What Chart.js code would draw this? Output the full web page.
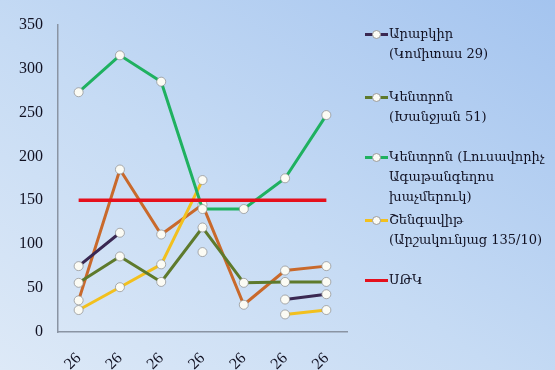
<!DOCTYPE html>
<html lang="hy">
<head>
  <meta charset="UTF-8" />
  <title>Chart</title>
  <script src="https://cdn.jsdelivr.net/npm/chart.js"></script>
  <style>
    html, body {
      margin: 0;
      padding: 0;
    }
    body {
      width: 555px;
      height: 370px;
      overflow: hidden;
      background: linear-gradient(to top right, #dde9f7 0%, #c6dbf4 45%, #a4c4ef 100%);
      position: relative;
    }
    #wrap {
      position: absolute;
      left: 0;
      top: 0;
      width: 555px;
      height: 370px;
    }
    #legend {
      position: absolute;
      left: 365px;
      top: 0;
      font-family: 'DejaVu Serif', serif;
      font-size: 13px;
      color: #111122;
    }
    .item {
      position: absolute;
      left: 0;
      white-space: nowrap;
      line-height: 20px;
    }
    .mark {
      position: absolute;
      left: 0;
      top: 9px;
      width: 23px;
      height: 3px;
    }
    .mark span {
      position: absolute;
      left: 7px;
      top: -3px;
      width: 7px;
      height: 7px;
      border-radius: 50%;
      background: #fbfbf5;
      border: 1px solid #9a9a9a;
    }
    .txt {
      margin-left: 24px;
    }
  </style>
</head>
<body>
  <div id="wrap"><canvas id="chart" width="555" height="370"></canvas></div>
  <div id="legend"></div>

  <script>
    const categories = ["26", "26", "26", "26", "26", "26", "26"];
    const yTicks = [0, 50, 100, 150, 200, 250, 300, 350];

    const arabkir = [75, 113, null, 91, null, 37, 43];
    const kentronKhanjyan = [56, 86, 57, 119, 56, 57, 57];
    const kentronLusavorich = [273, 315, 285, 140, 140, 175, 247];
    const shengavit = [25, 51, 77, 173, null, 20, 25];
    const orangeSeries = [36, 185, 111, 145, 31, 70, 75];
    const limitLine = [150, 150, 150, 150, 150, 150, 150];

    const legendItems = [
      { lines: ["Արաբկիր", "(Կոմիտաս 29)"], color: "#3a2852", top: 24, marker: true },
      { lines: ["Կենտրոն", "(Խանջյան 51)"], color: "#5e7a2c", top: 87, marker: true },
      { lines: ["Կենտրոն (Լուսավորիչ", "Ագաթանգեղոս", "խաչմերուկ)"], color: "#1fb160", top: 147, marker: true },
      { lines: ["Շենգավիթ", "(Արշակունյաց 135/10)"], color: "#f2c01e", top: 210, marker: true },
      { lines: ["ՍԹԿ"], color: "#e5101c", top: 270, marker: false }
    ];

    const legend = document.getElementById("legend");
    legendItems.forEach(function (it) {
      const d = document.createElement("div");
      d.className = "item";
      d.style.top = it.top + "px";
      const m = document.createElement("div");
      m.className = "mark";
      m.style.background = it.color;
      if (it.marker) m.appendChild(document.createElement("span"));
      d.appendChild(m);
      const t = document.createElement("div");
      t.className = "txt";
      t.innerHTML = it.lines.join("<br>");
      d.appendChild(t);
      legend.appendChild(d);
    });

    function lineSet(label, data, color, order) {
      return {
        label: label,
        data: data,
        borderColor: color,
        backgroundColor: color,
        borderWidth: 3,
        pointRadius: 4.5,
        pointHoverRadius: 4.5,
        pointBackgroundColor: "#fbfbf4",
        pointBorderColor: "rgba(140,140,140,0.7)",
        pointBorderWidth: 1,
        spanGaps: false,
        tension: 0,
        order: order
      };
    }

    const ctx = document.getElementById("chart").getContext("2d");
    const chart = new Chart(ctx, {
      type: "line",
      data: {
        labels: categories,
        datasets: [
          lineSet("Արաբկիր (Կոմիտաս 29)", arabkir, "#3a2852", 2),
          lineSet("Կենտրոն (Խանջյան 51)", kentronKhanjyan, "#5e7a2c", 3),
          lineSet("Կենտրոն (Լուսավորիչ Ագաթանգեղոս խաչմերուկ)", kentronLusavorich, "#1fb160", 4),
          lineSet("Շենգավիթ (Արշակունյաց 135/10)", shengavit, "#f2c01e", 5),
          lineSet("", orangeSeries, "#c9692b", 6),
          {
            label: "ՍԹԿ",
            data: limitLine,
            borderColor: "#e5101c",
            borderWidth: 3.5,
            pointRadius: 0,
            order: 1
          }
        ]
      },
      options: {
        responsive: false,
        animation: false,
        layout: { padding: { left: 0, right: 208, top: 8, bottom: 0 } },
        plugins: {
          legend: { display: false },
          tooltip: { enabled: false }
        },
        scales: {
          x: {
            offset: true,
            grid: { display: false, drawTicks: false },
            border: { display: true, color: "#8a94a3", width: 1.5 },
            ticks: {
              color: "#111122",
              font: { family: "Liberation Serif", size: 16 },
              minRotation: 45,
              maxRotation: 45,
              padding: 17
            },
            afterFit: function (s) { s.height = 38; }
          },
          y: {
            min: 0,
            max: 350,
            afterBuildTicks: function (s) {
              s.ticks = yTicks.map(function (v) { return { value: v }; });
            },
            grid: { display: false, drawTicks: false },
            border: { display: true, color: "#8a94a3", width: 1.5 },
            ticks: {
              color: "#111122",
              font: { family: "Liberation Serif", size: 16 },
              padding: 15
            },
            afterFit: function (s) { s.width = 58; }
          }
        }
      }
    });
  </script>
</body>
</html>
